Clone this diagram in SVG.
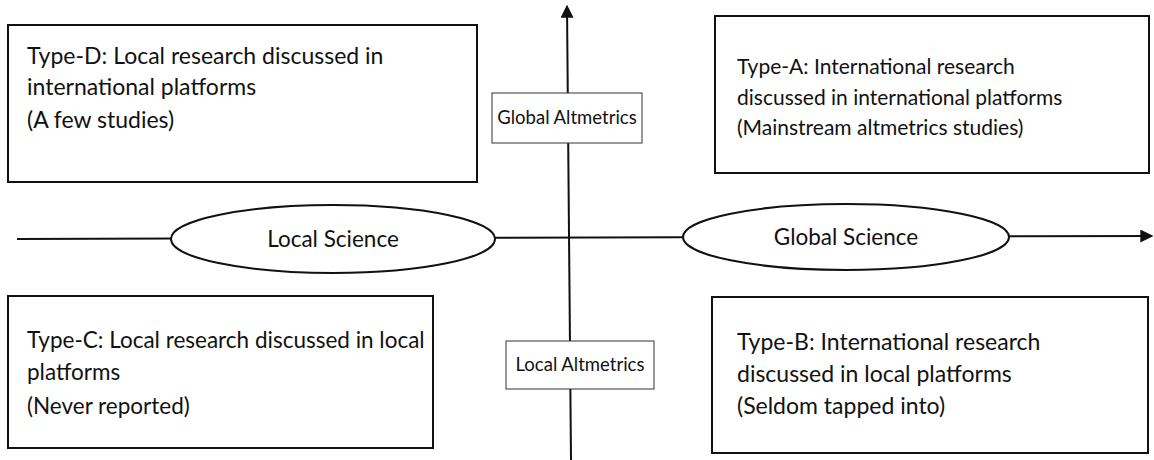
<svg xmlns="http://www.w3.org/2000/svg" width="1154" height="460" viewBox="0 0 1154 460">
<defs>
<style>
.box{fill:#fff;stroke:#111;stroke-width:2}
.lbl{fill:#fff;stroke:#333;stroke-width:1}
.ell{fill:#fff;stroke:#111;stroke-width:2}
.t{font-family:Lato,"Liberation Sans",sans-serif;font-size:23px;fill:#111}
.ta{font-size:21px}
.tc{font-size:22.5px}
.te{font-size:22.5px}
.tl{font-size:18.5px}
.c{text-anchor:middle}
.ln{stroke:#111;stroke-width:2;fill:none}
</style>
<marker id="ah" viewBox="0 0 10 10" refX="9" refY="5" markerWidth="6.5" markerHeight="6.5" orient="auto" markerUnits="strokeWidth">
<path d="M0,0 L10,5 L0,10 z" fill="#111"/>
</marker>
</defs>
<rect width="1154" height="460" fill="#fff"/>
<g id="connectors">
<line class="ln" x1="571" y1="460" x2="567" y2="6" marker-end="url(#ah)"/>
<line class="ln" x1="17" y1="239" x2="1152" y2="236" marker-end="url(#ah)"/>
</g>
<g id="type-d">
<rect class="box" x="8" y="25" width="469" height="157"/>
<text class="t" x="27" y="64">Type-D: Local research discussed in</text>
<text class="t" x="27" y="95">international platforms</text>
<text class="t" x="27" y="128">(A few studies)</text>
</g>
<g id="type-a">
<rect class="box" x="715" y="16" width="434" height="157"/>
<text class="t ta" x="737" y="74">Type-A: International research</text>
<text class="t ta" x="737" y="105">discussed in international platforms</text>
<text class="t ta" x="737" y="135">(Mainstream altmetrics studies)</text>
</g>
<g id="global-altmetrics">
<rect class="lbl" x="492" y="93" width="150" height="50"/>
<text class="t tl c" x="567" y="124">Global Altmetrics</text>
</g>
<g id="local-science">
<ellipse class="ell" cx="333" cy="239" rx="162" ry="34"/>
<text class="t te c" x="333" y="247">Local Science</text>
</g>
<g id="global-science">
<ellipse class="ell" cx="846" cy="237" rx="163" ry="33"/>
<text class="t te c" x="846" y="245">Global Science</text>
</g>
<g id="type-c">
<rect class="box" x="8" y="296" width="425" height="152"/>
<text class="t tc" x="27" y="348">Type-C: Local research discussed in local</text>
<text class="t tc" x="27" y="380">platforms</text>
<text class="t tc" x="27" y="414">(Never reported)</text>
</g>
<g id="local-altmetrics">
<rect class="lbl" x="506" y="341" width="148" height="48"/>
<text class="t tl c" x="580" y="371">Local Altmetrics</text>
</g>
<g id="type-b">
<rect class="box" x="712" y="297" width="436" height="156"/>
<text class="t" x="737" y="350">Type-B: International research</text>
<text class="t" x="737" y="382">discussed in local platforms</text>
<text class="t" x="737" y="414">(Seldom tapped into)</text>
</g>
</svg>
